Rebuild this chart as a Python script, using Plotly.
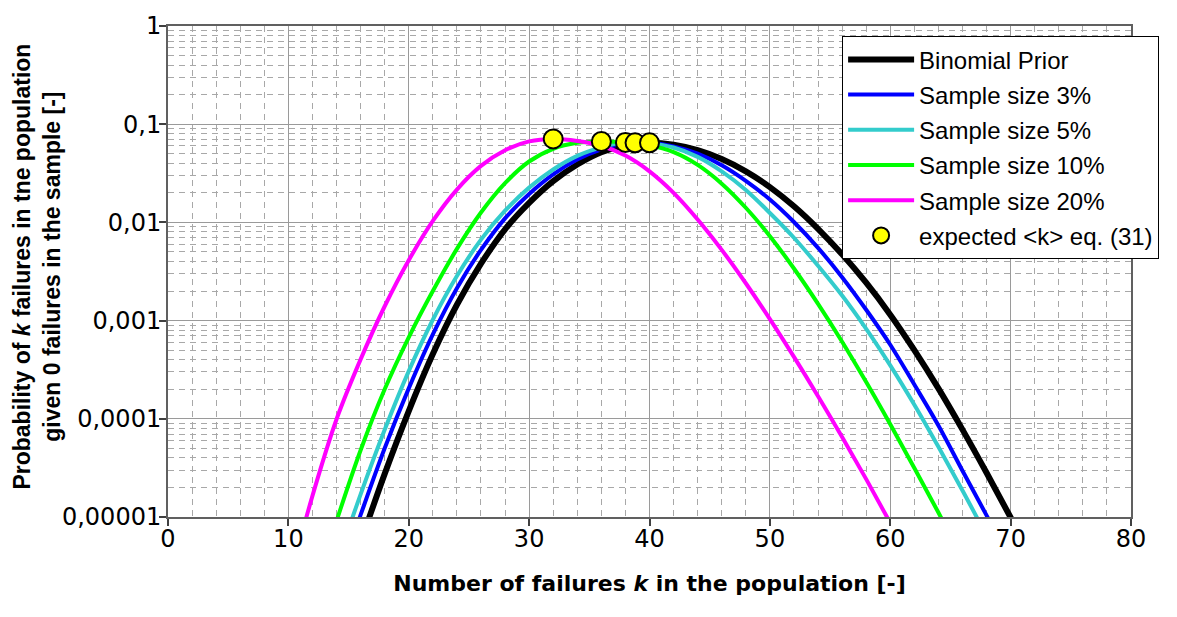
import plotly.graph_objects as go

# ---- data ----
k_prior = [16, 18, 20, 22, 24, 26, 28, 30, 32, 34, 36, 38, 40, 42, 44, 46, 48, 50, 52,
           54, 56, 58, 60, 62, 64, 66, 68, 70, 72]
p_prior = [5.50e-6, 2.75e-5, 1.20e-4, 4.57e-4, 1.45e-3, 3.80e-3, 8.51e-3, 0.0158, 0.0263,
           0.0389, 0.0519, 0.0610, 0.0646, 0.0617, 0.0543, 0.0442, 0.0331, 0.0229, 0.0146,
           8.61e-3, 4.73e-3, 2.43e-3, 1.15e-3, 5.01e-4, 2.04e-4, 7.76e-5, 2.82e-5, 9.89e-6,
           3.39e-6]

k_s3 = [15, 16, 18, 20, 22, 24, 26, 28, 30, 32, 34, 36, 38, 40, 42, 44, 46, 48, 50, 52,
        54, 56, 58, 60, 62, 64, 66, 68, 70]
p_s3 = [4.68e-6, 1.05e-5, 5.01e-5, 2.04e-4, 7.24e-4, 2.14e-3, 5.25e-3, 0.0110, 0.0195,
        0.0309, 0.0437, 0.0553, 0.0638, 0.0646, 0.0594, 0.0501, 0.0382, 0.0265, 0.0171,
        0.0101, 5.50e-3, 2.77e-3, 1.29e-3, 5.68e-4, 2.23e-4, 8.55e-5, 2.96e-5, 1.04e-5,
        3.55e-6]

k_s5 = [14, 16, 18, 20, 22, 24, 26, 28, 30, 32, 34, 36, 38, 40, 42, 44, 46, 48, 50, 52,
        54, 56, 58, 60, 62, 64, 66, 68]
p_s5 = [3.31e-6, 1.70e-5, 7.73e-5, 3.06e-4, 1.02e-3, 2.84e-3, 6.68e-3, 0.01315, 0.0226,
        0.0346, 0.0476, 0.0581, 0.0653, 0.0638, 0.0579, 0.0465, 0.0331, 0.0214, 0.01247,
        6.98e-3, 3.62e-3, 1.80e-3, 8.24e-4, 3.50e-4, 1.39e-4, 5.18e-5, 1.86e-5, 6.46e-6]

k_s10 = [12, 14, 16, 18, 20, 22, 24, 26, 28, 30, 32, 34, 36, 38, 40, 42, 44, 46, 48, 50,
         52, 54, 56, 58, 60, 62, 64, 66]
p_s10 = [1.58e-6, 9.12e-6, 4.79e-5, 2.00e-4, 6.76e-4, 2.00e-3, 5.37e-3, 0.0126, 0.0251,
         0.0417, 0.0562, 0.0646, 0.0668, 0.0653, 0.0610, 0.0519, 0.0385, 0.0248, 0.0141,
         7.24e-3, 3.39e-3, 1.48e-3, 6.10e-4, 2.37e-4, 8.81e-5, 3.16e-5, 1.11e-5, 3.80e-6]

k_s20 = [10, 12, 14, 16, 18, 20, 22, 24, 26, 28, 30, 32, 34, 36, 38, 40, 42, 44, 46, 48,
         50, 52, 54, 56, 58, 60, 62]
p_s20 = [2.09e-6, 1.64e-5, 9.89e-5, 4.03e-4, 1.40e-3, 4.12e-3, 0.01035, 0.0216, 0.0376,
         0.0543, 0.0668, 0.0708, 0.0676, 0.0603, 0.0479, 0.0331, 0.0200, 0.0107, 5.25e-3,
         2.40e-3, 1.035e-3, 4.27e-4, 1.70e-4, 6.53e-5, 2.43e-5, 8.71e-6, 3.02e-6]

k_expected = [32, 36, 38, 38.8, 40]
p_expected = [0.0708, 0.0668, 0.0653, 0.0646, 0.0646]

series_names = ["Binomial Prior", "Sample size 3%", "Sample size 5%",
                "Sample size 10%", "Sample size 20%"]
marker_name = "expected &lt;k&gt; eq. (31)"

y_tickvals = [1e-5, 1e-4, 1e-3, 1e-2, 1e-1, 1]
y_ticktext = ["0,00001", "0,0001", "0,001", "0,01", "0,1", "1"]
x_tickvals = [0, 10, 20, 30, 40, 50, 60, 70, 80]

x_title = "<b>Number of failures <i>k</i> in the population [-]</b>"
y_title = ("<b>Probability of <i>k</i> failures in tne population<br>"
           "given 0 failures in the sample [-]</b>")

# ---- styles ----
colors = ["#000000", "#0000FF", "#33CCCC", "#00FF00", "#FF00FF"]
widths = [6, 4, 4, 4, 4]

fig = go.Figure()
for kk, pp, name, c, w in zip([k_prior, k_s3, k_s5, k_s10, k_s20],
                              [p_prior, p_s3, p_s5, p_s10, p_s20],
                              series_names, colors, widths):
    fig.add_trace(go.Scatter(x=kk, y=pp, mode="lines", name=name,
                             line=dict(color=c, width=w, shape="spline", smoothing=1.0),
                             legendgroup=name))

fig.add_trace(go.Scatter(x=k_expected, y=p_expected, mode="markers", name=marker_name,
                         marker=dict(color="#FFFF00", size=19,
                                     line=dict(color="#000000", width=2)),
                         legendgroup="exp"))

tick_font = dict(family="DejaVu Sans", size=24, color="#000000")

fig.update_layout(
    width=1177, height=617,
    margin=dict(l=168, r=46, t=17, b=100),
    paper_bgcolor="#FFFFFF", plot_bgcolor="#FFFFFF",
    showlegend=True,
    legend=dict(x=0.70, y=0.979, xanchor="left", yanchor="top",
                bgcolor="#FFFFFF", bordercolor="#000000", borderwidth=1,
                font=dict(family="Liberation Sans", size=24, color="#000000"),
                tracegroupgap=1, itemwidth=66),
    xaxis=dict(range=[0, 80], tickmode="array", tickvals=x_tickvals,
               showgrid=True, gridcolor="#9A9A9A", gridwidth=1,
               minor=dict(dtick=2, tick0=0, showgrid=True, gridcolor="#A8A8A8",
                          griddash="6px,5px", gridwidth=1),
               ticks="outside", ticklen=7, tickcolor="#404040", tickwidth=1.5,
               ticklabelstandoff=-8,
               showline=True, linecolor="#606060", linewidth=2, mirror=True,
               zeroline=False, tickfont=tick_font,
               title=dict(text=x_title, standoff=24,
                          font=dict(family="DejaVu Sans", size=22, color="#000000"))),
    yaxis=dict(type="log", range=[-5, 0], tickmode="array",
               tickvals=y_tickvals, ticktext=y_ticktext,
               showgrid=True, gridcolor="#9A9A9A", gridwidth=1,
               minor=dict(dtick="D1", showgrid=True, gridcolor="#A8A8A8",
                          griddash="6px,5px", gridwidth=1),
               ticks="outside", ticklen=7, tickcolor="#404040", tickwidth=1.5,
               ticklabelstandoff=-7,
               showline=True, linecolor="#606060", linewidth=2, mirror=True,
               zeroline=False, tickfont=tick_font),
    annotations=[dict(text=y_title, textangle=-90, xref="paper", yref="paper",
                      x=(37 - 168) / 963, y=0.51, xanchor="center", yanchor="middle",
                      showarrow=False,
                      font=dict(family="Liberation Sans", size=23, color="#000000"))],
)

fig.write_html("out.html")
